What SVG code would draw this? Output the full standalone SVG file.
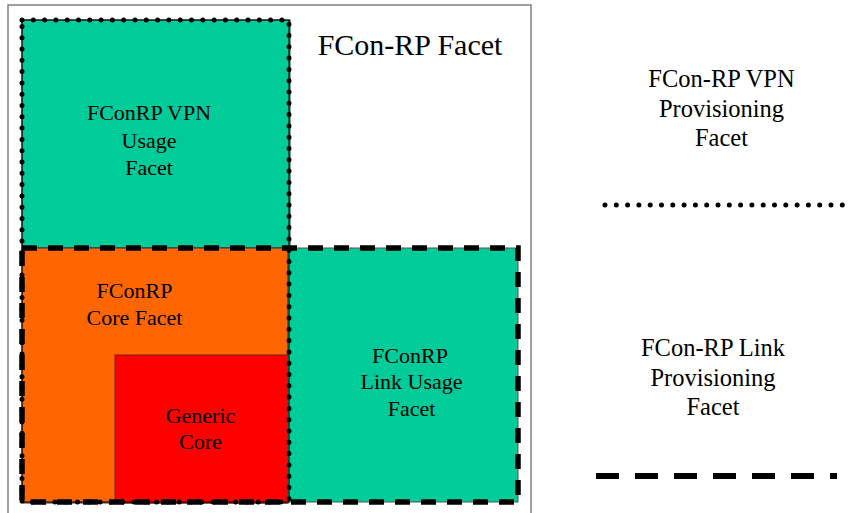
<svg xmlns="http://www.w3.org/2000/svg" width="849" height="513" viewBox="0 0 849 513">
<style>
text{font-family:"Liberation Serif","Times New Roman",serif;fill:#000;text-anchor:middle}
.t22{font-size:22px}
.t25{font-size:24.5px}
.t29{font-size:30px}
.dotted{fill:none;stroke:#000;stroke-width:5;stroke-linecap:round;stroke-dasharray:0 11.3}
.dashed{fill:none;stroke:#000;stroke-width:5.5;stroke-dasharray:15 11}
.thin{stroke:#333;stroke-width:1}
</style>
<rect width="849" height="513" fill="#fff"/>
<g id="fcon-rp-facet">
<rect x="8" y="5" width="523" height="520" fill="#fff" stroke="#808080" stroke-width="1.5"/>
<text class="t29" x="410" y="55">FCon-RP Facet</text>
</g>
<g id="vpn-usage">
<rect x="22" y="20" width="268" height="228" fill="#00CC99" class="thin"/>
<text class="t22" x="149" y="120">FConRP VPN</text>
<text class="t22" x="149" y="148">Usage</text>
<text class="t22" x="149" y="175">Facet</text>
</g>
<g id="core-facet">
<rect x="22" y="248" width="266" height="255" fill="#FF6600" class="thin"/>
<text class="t22" x="134.5" y="298">FConRP</text>
<text class="t22" x="134.5" y="325">Core Facet</text>
</g>
<g id="generic-core">
<rect x="115" y="355" width="173" height="148" fill="#FF0000" stroke="#7a1a00" stroke-width="1"/>
<text class="t22" x="200.5" y="423">Generic</text>
<text class="t22" x="200.5" y="449">Core</text>
</g>
<g id="link-usage">
<rect x="288" y="248" width="230" height="254" fill="#00CC99" stroke="#555" stroke-width="1"/>
<text class="t22" x="410" y="363">FConRP</text>
<text class="t22" x="411.5" y="389">Link Usage</text>
<text class="t22" x="411.5" y="416">Facet</text>
</g>
<g id="link-provisioning">
<rect x="22" y="248" width="496" height="254" class="dashed"/>
</g>
<g id="vpn-provisioning">
<rect x="22" y="20" width="267" height="482" fill="none" stroke="#000" stroke-width="1"/>
<rect x="22" y="20" width="267" height="482" class="dotted"/>
</g>
<g id="legend-vpn">
<text class="t25" x="721.5" y="87">FCon-RP VPN</text>
<text class="t25" x="721.5" y="117">Provisioning</text>
<text class="t25" x="721.5" y="146">Facet</text>
<line x1="605" y1="205" x2="846" y2="205" class="dotted"/>
</g>
<g id="legend-link">
<text class="t25" x="713" y="356">FCon-RP Link</text>
<text class="t25" x="713" y="386">Provisioning</text>
<text class="t25" x="713" y="415">Facet</text>
<line x1="596" y1="476" x2="837" y2="476" stroke="#000" stroke-width="6" stroke-dasharray="23 16"/>
</g>
</svg>
